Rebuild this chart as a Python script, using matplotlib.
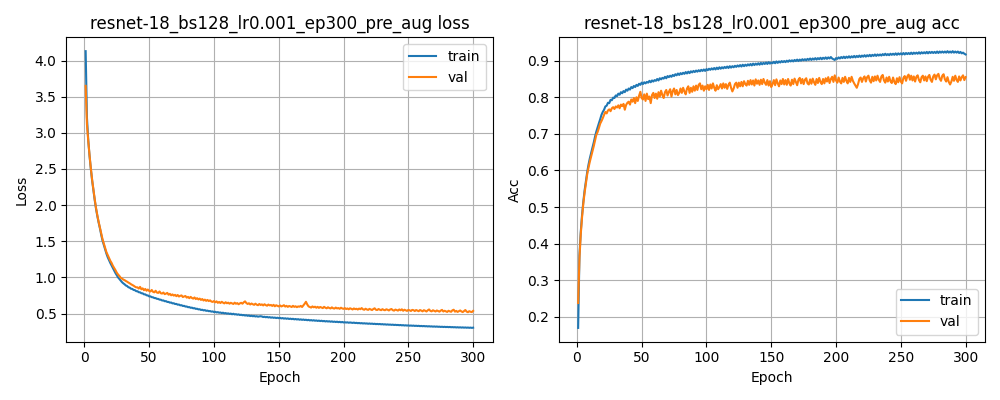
import numpy as np
import matplotlib
matplotlib.use('Agg')
from matplotlib import pyplot as plt

title = 'resnet-18_bs128_lr0.001_ep300_pre_aug'

# values, in thousandths, epochs 1..300
train_loss = [
    4130, 3210, 2900, 2680, 2500, 2340, 2200, 2070, 1950, 1850,
    1760, 1680, 1590, 1510, 1450, 1390, 1330, 1280, 1240, 1200,
    1165, 1130, 1095, 1060, 1030, 1000, 978, 955, 935, 918,
    905, 888, 880, 863, 858, 843, 840, 826, 823, 809,
    808, 794, 793, 780, 779, 765, 765, 752, 750, 737,
    737, 726, 724, 714, 713, 703, 702, 692, 691, 680,
    681, 670, 671, 660, 660, 650, 652, 640, 642, 631,
    633, 622, 624, 613, 615, 604, 606, 596, 597, 587,
    589, 579, 581, 572, 574, 564, 566, 557, 559, 549,
    552, 543, 547, 537, 540, 532, 534, 526, 529, 520,
    524, 515, 519, 511, 514, 506, 511, 502, 506, 498,
    502, 494, 499, 489, 497, 487, 491, 483, 488, 479,
    483, 476, 479, 472, 476, 468, 473, 464, 469, 462,
    466, 459, 463, 456, 460, 462, 459, 451, 455, 448,
    453, 445, 450, 442, 447, 440, 444, 437, 442, 435,
    440, 432, 437, 429, 434, 427, 432, 424, 429, 422,
    427, 419, 424, 417, 422, 414, 419, 412, 417, 410,
    414, 407, 412, 404, 409, 402, 407, 400, 404, 397,
    402, 395, 400, 393, 397, 390, 395, 389, 393, 386,
    391, 384, 388, 382, 387, 380, 385, 378, 383, 376,
    379, 375, 378, 372, 376, 373, 370, 374, 368, 371,
    366, 369, 364, 367, 362, 365, 361, 363, 358, 362,
    357, 360, 355, 358, 353, 356, 352, 355, 350, 353,
    348, 351, 346, 349, 345, 347, 343, 346, 341, 344,
    340, 342, 338, 341, 336, 339, 334, 337, 333, 336,
    331, 334, 330, 333, 328, 331, 327, 330, 325, 328,
    324, 327, 323, 325, 321, 324, 320, 322, 318, 321,
    317, 320, 316, 318, 314, 317, 313, 316, 312, 315,
    311, 314, 310, 312, 309, 311, 307, 310, 306, 309,
    305, 308, 304, 307, 303, 306, 302, 305, 301, 304,
]
val_loss = [
    3650, 3120, 2890, 2690, 2510, 2350, 2210, 2080, 1960, 1860,
    1770, 1690, 1610, 1530, 1470, 1410, 1350, 1310, 1270, 1230,
    1200, 1160, 1130, 1100, 1065, 1040, 1020, 995, 985, 970,
    962, 950, 940, 928, 918, 905, 895, 885, 872, 862,
    862, 845, 868, 835, 848, 822, 840, 815, 832, 812,
    805, 826, 800, 793, 815, 790, 785, 805, 780, 776,
    790, 768, 775, 785, 760, 772, 752, 764, 748, 758,
    740, 756, 735, 745, 750, 728, 736, 742, 720, 730,
    712, 730, 715, 706, 722, 700, 712, 695, 706, 688,
    700, 680, 692, 675, 688, 672, 682, 666, 660, 672,
    655, 668, 648, 660, 645, 662, 650, 640, 656, 642,
    650, 636, 648, 640, 632, 650, 635, 644, 628, 640,
    648, 636, 655, 668, 645, 632, 642, 625, 638, 628,
    620, 636, 622, 615, 632, 618, 626, 612, 628, 616,
    608, 624, 612, 618, 605, 620, 600, 614, 606, 598,
    612, 598, 605, 615, 596, 606, 592, 604, 598, 590,
    606, 592, 600, 588, 598, 594, 605, 590, 612, 635,
    662, 625, 598, 590, 582, 598, 586, 594, 580, 592,
    578, 590, 583, 575, 592, 580, 572, 586, 576, 570,
    585, 572, 568, 582, 570, 576, 565, 580, 570, 564,
    575, 562, 570, 558, 572, 565, 556, 570, 560, 566,
    555, 568, 560, 575, 558, 552, 566, 556, 550, 564,
    556, 548, 562, 572, 552, 548, 562, 553, 546, 560,
    550, 545, 558, 552, 542, 556, 562, 546, 540, 554,
    548, 540, 556, 545, 558, 538, 552, 544, 536, 550,
    544, 535, 550, 546, 534, 548, 540, 532, 548, 540,
    530, 546, 538, 528, 544, 556, 536, 530, 545, 536,
    528, 542, 534, 526, 540, 550, 528, 538, 530, 522,
    538, 530, 524, 544, 552, 526, 536, 522, 532, 542,
    528, 520, 534, 548, 526, 518, 532, 524, 520, 536,
]
train_acc = [
    170, 368, 432, 478, 515, 546, 572, 596, 616, 633,
    648, 662, 676, 692, 706, 718, 729, 740, 752, 760,
    766, 775, 777, 785, 784, 793, 792, 799, 798, 805,
    803, 810, 807, 814, 811, 817, 814, 821, 818, 824,
    821, 828, 825, 831, 828, 834, 831, 837, 834, 840,
    836, 841, 838, 842, 840, 845, 841, 846, 843, 847,
    845, 850, 846, 852, 849, 853, 851, 856, 852, 858,
    855, 859, 856, 861, 858, 863, 860, 865, 861, 866,
    863, 867, 864, 869, 865, 870, 866, 871, 868, 872,
    869, 873, 870, 874, 871, 875, 872, 876, 872, 877,
    874, 878, 875, 879, 876, 880, 876, 881, 877, 882,
    878, 882, 879, 883, 880, 884, 880, 885, 881, 885,
    882, 886, 883, 887, 884, 888, 884, 889, 885, 889,
    886, 890, 887, 891, 887, 892, 888, 892, 889, 893,
    889, 894, 890, 894, 891, 895, 891, 896, 892, 895,
    893, 897, 893, 898, 894, 898, 895, 899, 896, 899,
    896, 900, 897, 901, 898, 901, 898, 902, 899, 903,
    899, 903, 900, 904, 901, 904, 901, 905, 902, 906,
    902, 906, 903, 907, 903, 907, 904, 908, 904, 908,
    905, 909, 905, 909, 906, 910, 906, 904, 902, 907,
    905, 909, 906, 910, 907, 911, 907, 911, 908, 912,
    908, 912, 909, 913, 909, 913, 910, 914, 910, 914,
    911, 915, 911, 915, 912, 916, 912, 916, 913, 917,
    913, 917, 914, 917, 914, 918, 915, 919, 915, 918,
    915, 919, 916, 919, 916, 920, 916, 920, 917, 920,
    917, 921, 917, 921, 918, 921, 918, 922, 918, 922,
    919, 922, 919, 923, 919, 923, 920, 923, 920, 924,
    920, 924, 921, 924, 921, 924, 921, 925, 921, 925,
    922, 925, 922, 925, 922, 926, 922, 925, 922, 926,
    922, 925, 922, 925, 921, 924, 920, 922, 919, 917,
]
val_acc = [
    238, 360, 425, 472, 510, 540, 566, 590, 608, 624,
    638, 651, 666, 682, 697, 705, 716, 728, 735, 743,
    752, 760, 756, 764, 767, 762, 770, 773, 768, 775,
    772, 778, 770, 780, 776, 782, 766, 779, 785, 788,
    780, 794, 788, 798, 784, 800, 790, 804, 815, 798,
    794, 808, 790, 810, 795, 802, 784, 806, 812, 798,
    810, 796, 814, 802, 818, 806, 798, 814, 820, 805,
    815, 822, 802, 817, 824, 808, 820, 806, 812, 824,
    812, 826, 816, 808, 824, 830, 812, 826, 815, 830,
    818, 832, 820, 834, 838, 822, 832, 818, 830, 822,
    834, 820, 835, 824, 838, 826, 818, 833, 822, 828,
    836, 824, 838, 826, 836, 823, 834, 840, 826, 816,
    824, 836, 840, 826, 840, 830, 842, 830, 844, 836,
    832, 845, 834, 847, 835, 846, 832, 849, 837, 846,
    834, 848, 836, 850, 840, 834, 847, 832, 844, 828,
    836, 847, 833, 849, 838, 830, 846, 836, 850, 835,
    847, 834, 850, 838, 832, 848, 836, 851, 842, 833,
    848, 853, 838, 850, 836, 848, 852, 838, 835, 849,
    837, 851, 841, 834, 850, 839, 853, 842, 836, 850,
    838, 852, 843, 855, 839, 850, 856, 842, 860, 846,
    840, 854, 843, 838, 853, 842, 856, 845, 838, 853,
    842, 856, 845, 838, 832, 826, 836, 850, 854, 842,
    852, 857, 843, 855, 859, 846, 840, 856, 844, 857,
    846, 859, 848, 842, 857, 861, 846, 840, 854, 843,
    856, 844, 839, 854, 842, 836, 852, 841, 855, 843,
    838, 853, 858, 845, 857, 862, 848, 859, 846, 857,
    843, 856, 860, 847, 841, 855, 859, 846, 857, 844,
    856, 861, 848, 842, 857, 862, 849, 860, 864, 851,
    845, 859, 863, 849, 843, 855, 842, 835, 843, 856,
    845, 859, 848, 842, 857, 846, 855, 860, 847, 855,
]

epochs = np.arange(1, len(train_loss) + 1)

fig, (ax1, ax2) = plt.subplots(1, 2, figsize=(10, 4), dpi=100)

ax1.plot(epochs, np.array(train_loss) / 1000, label='train')
ax1.plot(epochs, np.array(val_loss) / 1000, label='val')
ax1.set_title(title + ' loss')
ax1.set_xlabel('Epoch')
ax1.set_ylabel('Loss')
ax1.legend(loc='upper right')
ax1.grid(True)

ax2.plot(epochs, np.array(train_acc) / 1000, label='train')
ax2.plot(epochs, np.array(val_acc) / 1000, label='val')
ax2.set_title(title + ' acc')
ax2.set_xlabel('Epoch')
ax2.set_ylabel('Acc')
ax2.legend(loc='lower right')
ax2.grid(True)

plt.tight_layout()
plt.savefig('out.png')
